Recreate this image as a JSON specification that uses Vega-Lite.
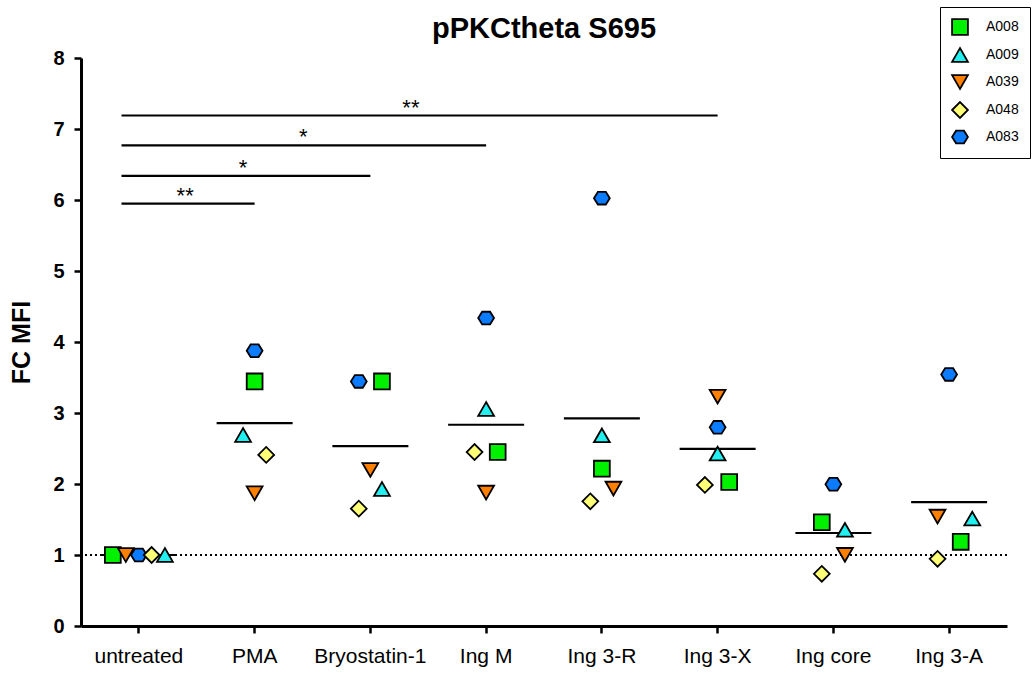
{
  "$schema": "https://vega.github.io/schema/vega-lite/v6.json",
  "autosize": {"type": "none"},
  "padding": {"left": 81, "top": 58, "right": 27, "bottom": 47},
  "width": 926,
  "height": 568,
  "title": {"text": "pPKCtheta S695", "fontSize": 29, "fontWeight": "bold", "font": "Liberation Sans", "anchor": "middle", "frame": "group", "baseline": "alphabetic", "offset": -34, "dy": 26, "color": "black"},
  "config": {"view": {"stroke": null}, "font": "Liberation Sans"},
  "data": {"values": [
    {"group": "untreated", "donor": "A008", "value": 1.0, "jitter": -0.225},
    {"group": "untreated", "donor": "A039", "value": 1.0, "jitter": -0.113},
    {"group": "untreated", "donor": "A083", "value": 1.0, "jitter": 0.0},
    {"group": "untreated", "donor": "A048", "value": 1.0, "jitter": 0.11},
    {"group": "untreated", "donor": "A009", "value": 1.0, "jitter": 0.225},
    {"group": "PMA", "donor": "A008", "value": 3.445, "jitter": 0.0},
    {"group": "PMA", "donor": "A009", "value": 2.69, "jitter": -0.1},
    {"group": "PMA", "donor": "A039", "value": 1.87, "jitter": 0.0},
    {"group": "PMA", "donor": "A048", "value": 2.41, "jitter": 0.1},
    {"group": "PMA", "donor": "A083", "value": 3.877, "jitter": 0.0},
    {"group": "Bryostatin-1", "donor": "A008", "value": 3.445, "jitter": 0.1},
    {"group": "Bryostatin-1", "donor": "A009", "value": 1.93, "jitter": 0.1},
    {"group": "Bryostatin-1", "donor": "A039", "value": 2.198, "jitter": 0.0},
    {"group": "Bryostatin-1", "donor": "A048", "value": 1.653, "jitter": -0.1},
    {"group": "Bryostatin-1", "donor": "A083", "value": 3.445, "jitter": -0.1},
    {"group": "Ing M", "donor": "A008", "value": 2.45, "jitter": 0.1},
    {"group": "Ing M", "donor": "A009", "value": 3.057, "jitter": 0.0},
    {"group": "Ing M", "donor": "A039", "value": 1.879, "jitter": 0.0},
    {"group": "Ing M", "donor": "A048", "value": 2.45, "jitter": -0.1},
    {"group": "Ing M", "donor": "A083", "value": 4.337, "jitter": 0.0},
    {"group": "Ing 3-R", "donor": "A008", "value": 2.216, "jitter": 0.0},
    {"group": "Ing 3-R", "donor": "A009", "value": 2.685, "jitter": 0.0},
    {"group": "Ing 3-R", "donor": "A039", "value": 1.935, "jitter": 0.1},
    {"group": "Ing 3-R", "donor": "A048", "value": 1.756, "jitter": -0.1},
    {"group": "Ing 3-R", "donor": "A083", "value": 6.026, "jitter": 0.0},
    {"group": "Ing 3-X", "donor": "A008", "value": 2.029, "jitter": 0.1},
    {"group": "Ing 3-X", "donor": "A009", "value": 2.428, "jitter": 0.0},
    {"group": "Ing 3-X", "donor": "A039", "value": 3.23, "jitter": 0.0},
    {"group": "Ing 3-X", "donor": "A048", "value": 1.987, "jitter": -0.11},
    {"group": "Ing 3-X", "donor": "A083", "value": 2.798, "jitter": 0.0},
    {"group": "Ing core", "donor": "A008", "value": 1.461, "jitter": -0.1},
    {"group": "Ing core", "donor": "A009", "value": 1.354, "jitter": 0.1},
    {"group": "Ing core", "donor": "A039", "value": 1.002, "jitter": 0.1},
    {"group": "Ing core", "donor": "A048", "value": 0.735, "jitter": -0.1},
    {"group": "Ing core", "donor": "A083", "value": 1.996, "jitter": 0.0},
    {"group": "Ing 3-A", "donor": "A008", "value": 1.185, "jitter": 0.1},
    {"group": "Ing 3-A", "donor": "A009", "value": 1.513, "jitter": 0.2},
    {"group": "Ing 3-A", "donor": "A039", "value": 1.541, "jitter": -0.1},
    {"group": "Ing 3-A", "donor": "A048", "value": 0.946, "jitter": -0.1},
    {"group": "Ing 3-A", "donor": "A083", "value": 3.543, "jitter": 0.0}
  ]},
  "layer": [
    {
      "mark": {"type": "tick", "color": "black", "thickness": 2.2, "size": 76, "opacity": 1},
      "encoding": {
        "x": {"field": "group", "type": "nominal",
          "scale": {"domain": ["untreated", "PMA", "Bryostatin-1", "Ing M", "Ing 3-R", "Ing 3-X", "Ing core", "Ing 3-A"], "paddingInner": 0, "paddingOuter": 0},
          "axis": {"title": null, "labelAngle": 0, "labelFontSize": 21, "labelColor": "black", "labelFont": "Liberation Sans", "labelPadding": 12, "tickSize": 7, "tickWidth": 2.5, "tickColor": "black", "domainWidth": 3, "domainColor": "black", "grid": false}},
        "y": {"aggregate": "mean", "field": "value", "type": "quantitative",
          "scale": {"domain": [0, 8], "nice": false},
          "axis": {"title": "FC MFI", "titleFontSize": 25, "titleFontWeight": "bold", "titleColor": "black", "titleFont": "Liberation Sans", "titlePadding": 18, "values": [0, 1, 2, 3, 4, 5, 6, 7, 8], "format": "d", "labelFontSize": 20, "labelFontWeight": "bold", "labelColor": "black", "labelFont": "Liberation Sans", "labelPadding": 10, "tickSize": 7, "tickWidth": 2.5, "tickColor": "black", "domainWidth": 3, "domainColor": "black", "grid": false}}
      }
    },
    {
      "data": {"values": [{"v": 1}]},
      "mark": {"type": "rule", "strokeDash": [2, 3], "strokeWidth": 2.2, "color": "black"},
      "encoding": {"y": {"field": "v", "type": "quantitative"}}
    },
    {
      "mark": {"type": "point", "filled": true, "stroke": "black", "strokeWidth": 1.8, "opacity": 1, "fillOpacity": 1, "strokeOpacity": 1, "size": 250},
      "encoding": {
        "x": {"field": "group", "type": "nominal"},
        "xOffset": {"field": "jitter", "type": "quantitative", "scale": {"domain": [-0.5, 0.5]}},
        "y": {"field": "value", "type": "quantitative"},
        "shape": {"field": "donor", "type": "nominal",
          "scale": {"domain": ["A008", "A009", "A039", "A048", "A083"], "range": ["square", "triangle-up", "triangle-down", "diamond", "M-1,0L-0.5,-0.8L0.5,-0.8L1,0L0.5,0.8L-0.5,0.8Z"]},
          "legend": {"title": null, "orient": "none", "legendX": 859, "legendY": -51, "padding": 11, "rowPadding": 5, "labelOffset": 17, "labelFontSize": 14, "labelFont": "Liberation Sans", "labelColor": "black", "symbolSize": 250, "symbolStrokeColor": "black", "symbolStrokeWidth": 1.8, "strokeColor": "black", "fillColor": "white"}},
        "color": {"field": "donor", "type": "nominal",
          "scale": {"domain": ["A008", "A009", "A039", "A048", "A083"], "range": ["#00F000", "#22F0F0", "#FF8000", "#FFFF77", "#0B7BFF"]},
          "legend": {"title": null, "orient": "none", "legendX": 859, "legendY": -51, "padding": 11, "rowPadding": 5, "labelOffset": 17, "labelFontSize": 14, "labelFont": "Liberation Sans", "labelColor": "black", "symbolSize": 250, "symbolStrokeColor": "black", "symbolStrokeWidth": 1.8, "strokeColor": "black", "fillColor": "white"}}
      }
    },
    {
      "data": {"values": [
        {"from": "untreated", "to": "PMA", "y": 5.95, "label": "**", "tx": 0.4},
        {"from": "untreated", "to": "Bryostatin-1", "y": 6.34, "label": "*", "tx": 0.9},
        {"from": "untreated", "to": "Ing M", "y": 6.77, "label": "*", "tx": 1.42},
        {"from": "untreated", "to": "Ing 3-X", "y": 7.19, "label": "**", "tx": 2.35}
      ]},
      "mark": {"type": "rule", "strokeWidth": 2.2, "color": "black"},
      "encoding": {
        "x": {"field": "from", "type": "nominal", "bandPosition": 0.35},
        "x2": {"field": "to"},
        "y": {"field": "y", "type": "quantitative"}
      }
    },
    {
      "data": {"values": [
        {"from": "untreated", "to": "PMA", "y": 5.95, "label": "**", "tx": 0.4},
        {"from": "untreated", "to": "Bryostatin-1", "y": 6.34, "label": "*", "tx": 0.9},
        {"from": "untreated", "to": "Ing M", "y": 6.77, "label": "*", "tx": 1.42},
        {"from": "untreated", "to": "Ing 3-X", "y": 7.19, "label": "**", "tx": 2.35}
      ]},
      "mark": {"type": "text", "fontSize": 22, "color": "black", "dy": -1, "baseline": "alphabetic", "align": "center"},
      "encoding": {
        "x": {"field": "from", "type": "nominal"},
        "xOffset": {"field": "tx", "type": "quantitative", "scale": {"domain": [-0.5, 0.5]}},
        "y": {"field": "y", "type": "quantitative"},
        "text": {"field": "label"}
      }
    }
  ]
}
